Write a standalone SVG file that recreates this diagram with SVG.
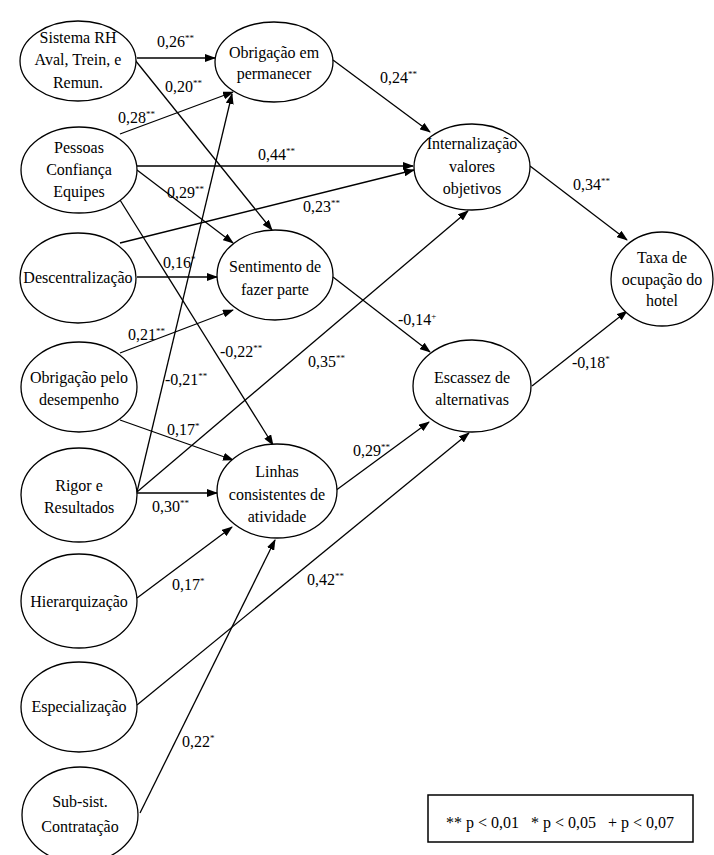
<svg xmlns="http://www.w3.org/2000/svg" width="714" height="855" viewBox="0 0 714 855">
<defs>
<marker id="ah" markerWidth="11" markerHeight="8" refX="10" refY="4" orient="auto" markerUnits="userSpaceOnUse">
<path d="M0,0 L11,4 L0,8 Z" fill="#000"/>
</marker>
<style>
.n ellipse{fill:#fff;stroke:#000;stroke-width:1.3}
.n text{font-family:"Liberation Serif","Times New Roman",serif;font-size:16px;fill:#000;text-anchor:middle}
.c line{stroke:#000;stroke-width:1.3;marker-end:url(#ah)}
.l text{font-family:"Liberation Serif","Times New Roman",serif;font-size:16px;fill:#000}
.s{font-size:9px}
.lg text{font-family:"Liberation Serif","Times New Roman",serif;font-size:16px;fill:#000}
</style>
</defs>
<rect width="714" height="855" fill="#fff"/>
<g class="c" id="connectors">
<line x1="137" y1="58" x2="215" y2="58"/>
<line x1="135" y1="60" x2="272" y2="230"/>
<line x1="120" y1="134" x2="233" y2="92"/>
<line x1="137" y1="166" x2="413" y2="166"/>
<line x1="137" y1="170" x2="233" y2="243"/>
<line x1="120" y1="200" x2="273" y2="445"/>
<line x1="120" y1="243" x2="414" y2="170"/>
<line x1="137" y1="277" x2="217" y2="277"/>
<line x1="120" y1="353" x2="233" y2="310"/>
<line x1="120" y1="420" x2="233" y2="460"/>
<line x1="137" y1="492" x2="232" y2="94"/>
<line x1="137" y1="492" x2="468" y2="211"/>
<line x1="137" y1="493" x2="217" y2="493"/>
<line x1="137" y1="598" x2="232" y2="527"/>
<line x1="137" y1="705" x2="469" y2="433"/>
<line x1="140" y1="813" x2="275" y2="540"/>
<line x1="333" y1="60" x2="430" y2="132"/>
<line x1="333" y1="277" x2="430" y2="352"/>
<line x1="335" y1="491" x2="429" y2="422"/>
<line x1="530" y1="166" x2="627" y2="240"/>
<line x1="532" y1="386" x2="627" y2="311"/>
</g>
<g class="l" id="labels">
<text x="157" y="47">0,26<tspan class="s" dy="-6">**</tspan></text>
<text x="165" y="92">0,20<tspan class="s" dy="-6">**</tspan></text>
<text x="118" y="123">0,28<tspan class="s" dy="-6">**</tspan></text>
<text x="258" y="160">0,44<tspan class="s" dy="-6">**</tspan></text>
<text x="167" y="198">0,29<tspan class="s" dy="-6">**</tspan></text>
<text x="303" y="212">0,23<tspan class="s" dy="-6">**</tspan></text>
<text x="163" y="268">0,16<tspan class="s" dy="-6">*</tspan></text>
<text x="128" y="340">0,21<tspan class="s" dy="-6">**</tspan></text>
<text x="220" y="357">-0,22<tspan class="s" dy="-6">**</tspan></text>
<text x="308" y="367">0,35<tspan class="s" dy="-6">**</tspan></text>
<text x="165" y="385">-0,21<tspan class="s" dy="-6">**</tspan></text>
<text x="167" y="435">0,17<tspan class="s" dy="-6">*</tspan></text>
<text x="152" y="512">0,30<tspan class="s" dy="-6">**</tspan></text>
<text x="353" y="456">0,29<tspan class="s" dy="-6">**</tspan></text>
<text x="172" y="590">0,17<tspan class="s" dy="-6">*</tspan></text>
<text x="307" y="585">0,42<tspan class="s" dy="-6">**</tspan></text>
<text x="182" y="747">0,22<tspan class="s" dy="-6">*</tspan></text>
<text x="380" y="83">0,24<tspan class="s" dy="-6">**</tspan></text>
<text x="398" y="325">-0,14<tspan class="s" dy="-6">+</tspan></text>
<text x="573" y="190">0,34<tspan class="s" dy="-6">**</tspan></text>
<text x="572" y="368">-0,18<tspan class="s" dy="-6">*</tspan></text>
</g>
<g class="n" id="n-sistema"><ellipse cx="78" cy="61" rx="58" ry="40"/><text x="78" y="43">Sistema RH</text><text x="78" y="65">Aval, Trein, e</text><text x="78" y="88">Remun.</text></g>
<g class="n" id="n-pessoas"><ellipse cx="79" cy="170" rx="58" ry="43"/><text x="79" y="153">Pessoas</text><text x="79" y="175">Confiança</text><text x="79" y="197">Equipes</text></g>
<g class="n" id="n-descentralizacao"><ellipse cx="78" cy="278" rx="58" ry="45"/><text x="78" y="283">Descentralização</text></g>
<g class="n" id="n-obrigdesemp"><ellipse cx="79" cy="387" rx="58" ry="45"/><text x="79" y="383">Obrigação pelo</text><text x="79" y="405">desempenho</text></g>
<g class="n" id="n-rigor"><ellipse cx="79" cy="495" rx="58" ry="47"/><text x="79" y="491">Rigor e</text><text x="79" y="513">Resultados</text></g>
<g class="n" id="n-hierarq"><ellipse cx="79" cy="601" rx="58" ry="47"/><text x="79" y="607">Hierarquização</text></g>
<g class="n" id="n-especial"><ellipse cx="79" cy="707" rx="58" ry="45"/><text x="79" y="712">Especialização</text></g>
<g class="n" id="n-subsist"><ellipse cx="80" cy="815" rx="58" ry="48"/><text x="80" y="807">Sub-sist.</text><text x="80" y="832">Contratação</text></g>
<g class="n" id="n-obrigperm"><ellipse cx="274" cy="62" rx="59" ry="40"/><text x="274" y="58">Obrigação em</text><text x="274" y="79">permanecer</text></g>
<g class="n" id="n-sentimento"><ellipse cx="275" cy="275" rx="58" ry="45"/><text x="275" y="272">Sentimento de</text><text x="275" y="295">fazer parte</text></g>
<g class="n" id="n-linhas"><ellipse cx="277" cy="491" rx="60" ry="47"/><text x="277" y="477">Linhas</text><text x="277" y="500">consistentes de</text><text x="277" y="522">atividade</text></g>
<g class="n" id="n-internal"><ellipse cx="472" cy="167" rx="58" ry="43"/><text x="472" y="149">Internalização</text><text x="472" y="172">valores</text><text x="472" y="194">objetivos</text></g>
<g class="n" id="n-escassez"><ellipse cx="472" cy="386" rx="59" ry="46"/><text x="472" y="383">Escassez de</text><text x="472" y="405">alternativas</text></g>
<g class="n" id="n-taxa"><ellipse cx="662" cy="279" rx="51" ry="47"/><text x="662" y="263">Taxa de</text><text x="662" y="285">ocupação do</text><text x="662" y="306">hotel</text></g>
<g class="lg" id="legend"><rect x="428" y="795" width="265" height="47" fill="#fff" stroke="#000" stroke-width="1.5"/><text x="560" y="828" text-anchor="middle" xml:space="preserve">** p &lt; 0,01   * p &lt; 0,05   + p &lt; 0,07</text></g>
</svg>
